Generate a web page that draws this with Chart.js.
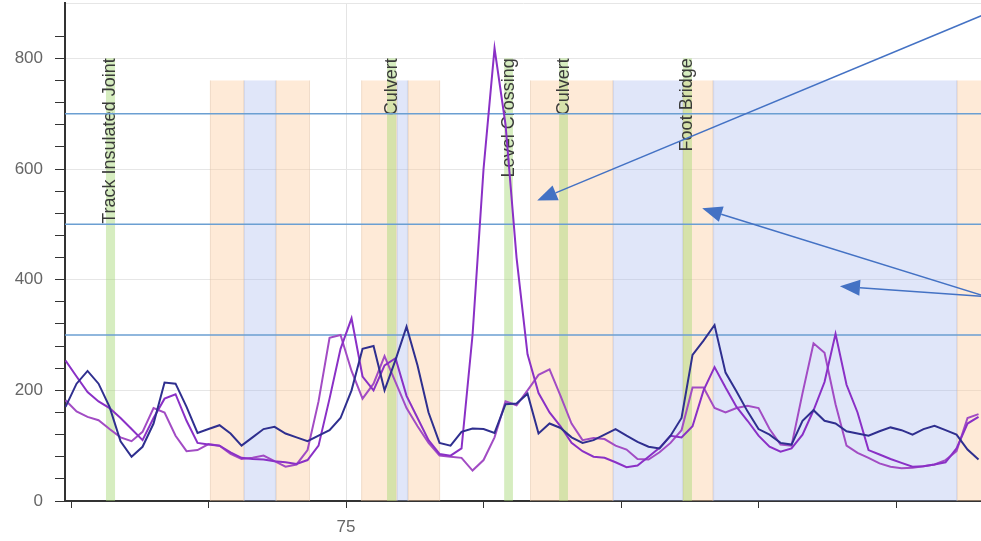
<!DOCTYPE html>
<html>
<head>
<meta charset="utf-8">
<script src="https://cdn.jsdelivr.net/npm/chart.js@4.4.0/dist/chart.umd.min.js"></script>
<style>
html, body { margin: 0; padding: 0; background: #fff; }
#wrap { width: 981px; height: 541px; position: relative; }
</style>
</head>
<body>
<div id="wrap"><canvas id="chart"></canvas></div>
<script>
// chainage of first sample and spacing between samples (km)
var kmStart = 64.8;
var kmStep = 0.4;

var navy = [170, 212, 235, 212, 170, 108, 80, 98, 140, 214, 212, 170, 123, 130, 137, 122, 100, 115, 130, 134,
    122, 115, 108, 118, 128, 150, 200, 275, 280, 200, 255, 315, 245, 160, 105, 100, 125, 131, 130, 123,
    175, 176, 194, 122, 140, 132, 115, 105, 110, 120, 130, 118, 107, 98, 95, 118, 150, 264, 290, 318,
    232, 198, 162, 130, 120, 105, 102, 145, 164, 145, 140, 126, 122, 118, 126, 133, 128, 120, 130, 136,
    128, 120, 93, 75];
var violet = [254, 225, 197, 180, 168, 150, 130, 110, 150, 185, 193, 145, 105, 102, 100, 88, 78, 76, 75, 72,
    70, 67, 74, 100, 185, 275, 330, 225, 200, 245, 258, 190, 150, 110, 85, 82, 95, 300, 600, 818,
    680, 440, 265, 195, 160, 135, 105, 90, 80, 78, 70, 61, 64, 80, 96, 118, 115, 135, 200, 242,
    205, 170, 145, 118, 98, 89, 95, 120, 164, 215, 302, 210, 160, 92, 84, 76, 69, 62, 63, 66,
    70, 95, 140, 152];
var magenta = [182, 162, 152, 146, 130, 115, 108, 125, 168, 160, 118, 90, 92, 103, 100, 85, 76, 78, 82, 72,
    62, 66, 92, 180, 295, 300, 235, 185, 212, 262, 215, 168, 135, 105, 82, 80, 78, 55, 74, 115,
    180, 173, 200, 228, 238, 190, 140, 110, 114, 112, 100, 93, 76, 75, 88, 105, 128, 205, 205, 168,
    160, 168, 172, 168, 130, 102, 100, 195, 285, 268, 175, 100, 87, 78, 68, 62, 59, 60, 63, 66,
    74, 90, 150, 157];

var thresholds = [300, 500, 700];
var labelledKm = [75];

// shaded sections along the line (km)
var orangeFrom = [70.05, 72.45, 75.55, 77.25, 81.69, 87.25, 97.22];
var orangeTo = [71.29, 73.69, 76.85, 78.42, 84.71, 88.35, 99.0];
var blueFrom = [71.29, 76.85, 84.71, 88.35];
var blueTo = [72.45, 77.25, 87.25, 97.22];
var sectionTop = 760;

// point features
var featureNames = ['Track Insulated Joint', 'Culvert', 'Level Crossing', 'Culvert', 'Foot Bridge'];
var featureFrom = [66.27, 76.49, 80.75, 82.75, 87.25];
var featureTo = [66.60, 76.82, 81.07, 83.07, 87.58];
var featureTop = 800;

// call-out arrows: tail -> tip
var arrowTailKm = [98.1, 98.1, 98.1];
var arrowTailVal = [877, 372, 370];
var arrowTipKm = [81.95, 87.95, 92.96];
var arrowTipVal = [543, 529, 388];

function toPoints(vals) {
    return vals.map(function (v, i) {
        return { x: +(kmStart + i * kmStep).toFixed(2), y: v };
    });
}

var xMin = 64.78, xMax = 98.09;

var sections = {
    id: 'sections',
    beforeDatasetsDraw: function (chart) {
        var ctx = chart.ctx, xs = chart.scales.x, ys = chart.scales.y, a = chart.chartArea;
        ctx.save();
        ctx.beginPath();
        ctx.rect(a.left, a.top, a.right - a.left, a.bottom - a.top);
        ctx.clip();
        var top = ys.getPixelForValue(sectionTop), bot = ys.getPixelForValue(0);
        function band(from, to, fill, edge) {
            for (var i = 0; i < from.length; i++) {
                var x1 = xs.getPixelForValue(from[i]), x2 = xs.getPixelForValue(to[i]);
                ctx.fillStyle = fill;
                ctx.fillRect(x1, top, x2 - x1, bot - top);
                ctx.strokeStyle = edge;
                ctx.lineWidth = 1;
                ctx.beginPath();
                ctx.moveTo(x1 + 0.5, top); ctx.lineTo(x1 + 0.5, bot);
                ctx.moveTo(x2 - 0.5, top); ctx.lineTo(x2 - 0.5, bot);
                ctx.stroke();
            }
        }
        band(orangeFrom, orangeTo, 'rgba(253,205,160,0.42)', 'rgba(215,195,175,0.35)');
        band(blueFrom, blueTo, 'rgba(160,178,236,0.33)', 'rgba(180,185,210,0.35)');
        var gTop = ys.getPixelForValue(featureTop);
        ctx.fillStyle = 'rgba(165,215,115,0.45)';
        for (var i = 0; i < featureFrom.length; i++) {
            var x1 = xs.getPixelForValue(featureFrom[i]), x2 = xs.getPixelForValue(featureTo[i]);
            ctx.fillRect(x1, gTop, x2 - x1, bot - gTop);
        }
        ctx.fillStyle = '#3a3a3a';
        ctx.font = '18px "Liberation Sans", Arial, sans-serif';
        ctx.textAlign = 'right';
        ctx.textBaseline = 'middle';
        for (var j = 0; j < featureNames.length; j++) {
            var cx = (xs.getPixelForValue(featureFrom[j]) + xs.getPixelForValue(featureTo[j])) / 2;
            ctx.save();
            ctx.translate(cx, gTop);
            ctx.rotate(-Math.PI / 2);
            ctx.fillText(featureNames[j], 0, 0);
            ctx.restore();
        }
        ctx.restore();
    }
};

var arrows = {
    id: 'arrows',
    afterDatasetsDraw: function (chart) {
        var ctx = chart.ctx, xs = chart.scales.x, ys = chart.scales.y;
        ctx.save();
        ctx.strokeStyle = '#4472c4';
        ctx.fillStyle = '#4472c4';
        ctx.lineWidth = 1.5;
        for (var i = 0; i < arrowTipKm.length; i++) {
            var x1 = xs.getPixelForValue(arrowTailKm[i]), y1 = ys.getPixelForValue(arrowTailVal[i]);
            var x2 = xs.getPixelForValue(arrowTipKm[i]), y2 = ys.getPixelForValue(arrowTipVal[i]);
            var ang = Math.atan2(y2 - y1, x2 - x1), len = 20, hw = 8;
            var bx = x2 - len * Math.cos(ang), by = y2 - len * Math.sin(ang);
            ctx.beginPath();
            ctx.moveTo(x1, y1);
            ctx.lineTo(bx, by);
            ctx.stroke();
            ctx.beginPath();
            ctx.moveTo(x2, y2);
            ctx.lineTo(bx + hw * Math.sin(ang), by - hw * Math.cos(ang));
            ctx.lineTo(bx - hw * Math.sin(ang), by + hw * Math.cos(ang));
            ctx.closePath();
            ctx.fill();
        }
        ctx.restore();
    }
};

var datasets = [
    { label: 'Run 1', data: toPoints(navy), borderColor: '#2f2f8f' },
    { label: 'Run 2', data: toPoints(violet), borderColor: '#8a30c6' },
    { label: 'Run 3', data: toPoints(magenta), borderColor: '#a24cc4' }
].map(function (d) {
    d.borderWidth = 2;
    d.pointRadius = 0;
    d.tension = 0;
    d.fill = false;
    return d;
});

thresholds.forEach(function (t) {
    datasets.push({
        label: 'Limit ' + t,
        data: [{ x: xMin, y: t }, { x: xMax, y: t }],
        borderColor: '#6b9fd2',
        borderWidth: 1.5,
        pointRadius: 0
    });
});

var tickFont = { family: '"Liberation Sans", Arial, sans-serif', size: 17 };

var chart = new Chart(
    document.getElementById('chart'),
    {
        type: 'line',
        data: { datasets: datasets },
        plugins: [sections, arrows],
        options: {
            responsive: true,
            maintainAspectRatio: false,
            animation: false,
            layout: { padding: { top: 3, right: 0, left: 0, bottom: 0 } },
            plugins: {
                legend: { display: false },
                tooltip: { enabled: false }
            },
            scales: {
                x: {
                    type: 'linear',
                    min: xMin,
                    max: xMax,
                    afterFit: function (s) { s.height = 40; s.paddingLeft = 0; s.paddingRight = 0; },
                    border: { display: true, color: '#333', width: 2 },
                    grid: {
                        color: function (c) { return c.tick && labelledKm.indexOf(c.tick.value) >= 0 ? '#e4e4e4' : 'rgba(0,0,0,0)'; },
                        tickColor: '#333',
                        tickLength: 7
                    },
                    ticks: {
                        stepSize: 5,
                        includeBounds: false,
                        maxRotation: 0,
                        autoSkip: false,
                        padding: 9,
                        color: '#666',
                        font: tickFont,
                        callback: function (v) { return labelledKm.indexOf(v) >= 0 ? String(v) : ''; }
                    }
                },
                y: {
                    min: 0,
                    max: 900,
                    afterFit: function (s) { s.width = 65; s.paddingTop = 0; s.paddingBottom = 0; },
                    border: { display: true, color: '#333', width: 2 },
                    grid: {
                        color: function (c) {
                            var v = c.tick ? c.tick.value : 0;
                            return (v % 200 === 0 || v === 900) && v !== 0 ? '#e6e6e6' : 'rgba(0,0,0,0)';
                        },
                        tickColor: function (c) { return c.tick && c.tick.value === 900 ? 'rgba(0,0,0,0)' : '#333'; },
                        tickLength: 10
                    },
                    ticks: {
                        stepSize: 40,
                        autoSkip: false,
                        padding: 12,
                        color: '#666',
                        font: tickFont,
                        callback: function (v) { return v % 200 === 0 ? String(v) : ''; }
                    }
                }
            }
        }
    }
);
</script>
</body>
</html>
